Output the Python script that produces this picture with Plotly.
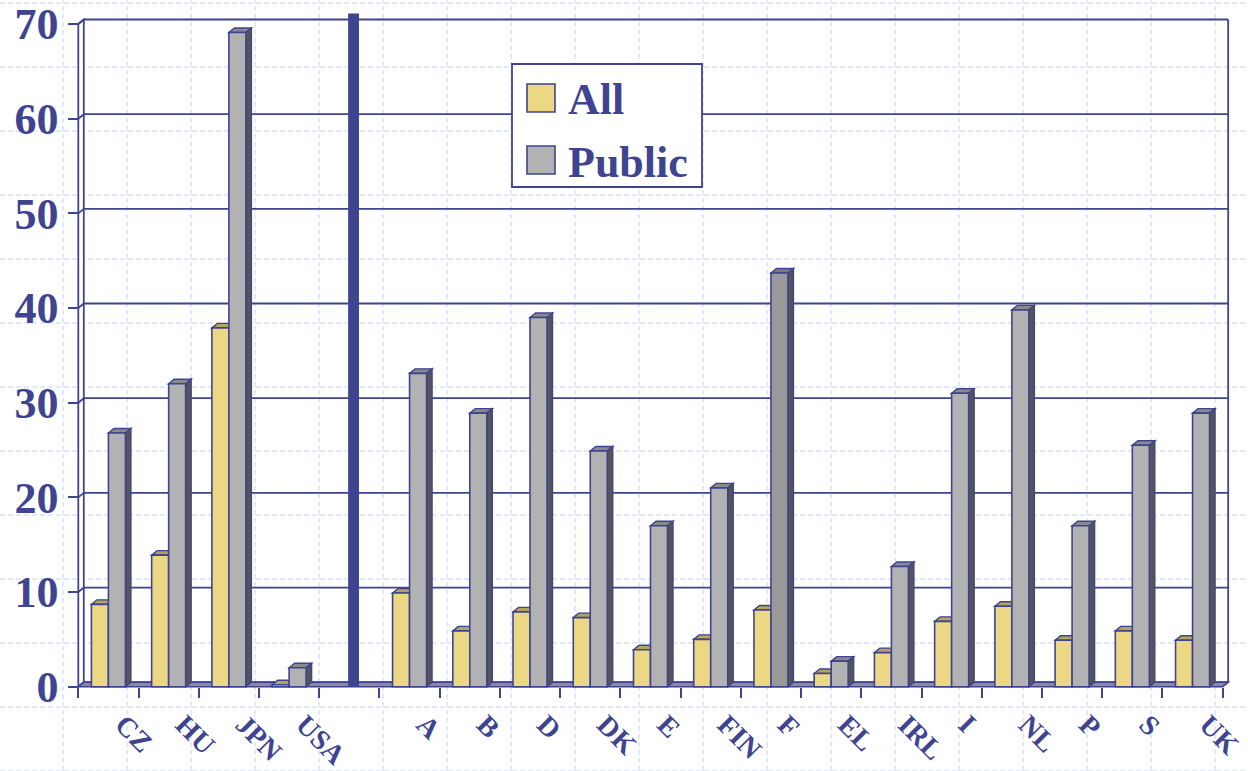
import plotly.graph_objects as go

# ---- data -------------------------------------------------------------
categories = ["CZ", "HU", "JPN", "USA", " ", "A", "B", "D", "DK", "E",
              "FIN", "F", "EL", "IRL", "I", "NL", "P", "S", "UK"]
all_values = [8.7, 13.9, 37.9, 0.2, None, 9.9, 5.9, 7.9, 7.3, 3.9,
              5.0, 8.1, 1.4, 3.6, 6.9, 8.5, 4.9, 5.9, 4.9]
public_values = [26.8, 32.0, 69.1, 2.0, None, 33.1, 28.9, 39.0, 24.9, 17.0,
                 21.0, 43.7, 2.7, 12.7, 31.0, 39.8, 17.0, 25.5, 28.9]
y_ticks = [0, 10, 20, 30, 40, 50, 60, 70]
series_names = ["All", "Public"]
highlight_category = "F"
separator_category = " "

# ---- styling ----------------------------------------------------------
W, H = 1248, 771
BLUE = "#3F4490"
FONT = "Liberation Serif"
YELLOW, YELLOW_TOP = "#EBD784", "#B5A25C"
GREY, GREY_TOP = "#B2B2B2", "#8A8A8A"
GREY_HI, GREY_HI_TOP = "#999999", "#7A7A7A"
SIDE = "#555555"
BG_GRID = "#C4D2F4"

# pixel geometry of the front plane
X0_PX = 78.3        # left edge of first category
CAT_PX = 60.23      # width of one category slot
Y0_PX = 686.7       # value 0
UNIT_PX = 9.467     # pixels per unit
DEPTH_X_PX, DEPTH_Y_PX = 5.5, 4.5
BAR_PX = 17.0

n = len(categories)
ddx = DEPTH_X_PX / CAT_PX
ddy = DEPTH_Y_PX / UNIT_PX
x_range = [-0.6, n - 0.5 + ddx + 0.1]
y_range = [-0.2, 71.3]
bargap = 1 - 2 * BAR_PX / CAT_PX
half = (1 - bargap) / 2

px_left = X0_PX + (x_range[0] + 0.5) * CAT_PX
px_right = X0_PX + (x_range[1] + 0.5) * CAT_PX
py_bottom = Y0_PX - y_range[0] * UNIT_PX
py_top = Y0_PX - y_range[1] * UNIT_PX

public_colors = [GREY_HI if c == highlight_category else GREY for c in categories]
public_tops = [GREY_HI_TOP if c == highlight_category else GREY_TOP for c in categories]

fig = go.Figure()
fig.add_bar(x=categories, y=all_values, name=series_names[0],
            marker=dict(color=YELLOW, line=dict(color=BLUE, width=1.6)))
fig.add_bar(x=categories, y=public_values, name=series_names[1],
            marker=dict(color=public_colors, line=dict(color=BLUE, width=1.6)))

shapes = []

# dashed background grid over the whole page
gx = -1
while gx <= W:
    shapes.append(dict(type="line", xref="paper", yref="paper", layer="below",
                       x0=gx / W, x1=gx / W, y0=0, y1=1,
                       line=dict(color=BG_GRID, width=1, dash="5px,3px")))
    gx += 64
gy = 3
while gy <= H:
    shapes.append(dict(type="line", xref="paper", yref="paper", layer="below",
                       x0=0, x1=1, y0=1 - gy / H, y1=1 - gy / H,
                       line=dict(color=BG_GRID, width=1, dash="5px,3px")))
    gy += 64

left = -0.5
right = n - 0.5
top = y_ticks[-1]

# side wall
shapes.append(dict(type="path", xref="x", yref="y", layer="below",
                   path=f"M {left},0 L {left},{top} L {left+ddx},{top+ddy} L {left+ddx},{ddy} Z",
                   fillcolor="white", line=dict(color=BLUE, width=1.8)))
# back-wall gridlines and their wrap onto the side wall
for v in y_ticks:
    shapes.append(dict(type="line", xref="x", yref="y", layer="below",
                       x0=left + ddx, x1=right + ddx, y0=v + ddy, y1=v + ddy,
                       line=dict(color=BLUE, width=1.8)))
    shapes.append(dict(type="line", xref="x", yref="y", layer="below",
                       x0=left, x1=left + ddx, y0=v, y1=v + ddy,
                       line=dict(color=BLUE, width=1.8)))
# right edge of back wall
shapes.append(dict(type="line", xref="x", yref="y", layer="below",
                   x0=right + ddx, x1=right + ddx, y0=ddy, y1=top + ddy,
                   line=dict(color=BLUE, width=1.8)))
# floor
shapes.append(dict(type="path", xref="x", yref="y", layer="below",
                   path=f"M {left},0 L {right},0 L {right+ddx},{ddy} L {left+ddx},{ddy} Z",
                   fillcolor="#8A8A9A", line=dict(color=BLUE, width=1.6)))


def box_faces(x0, x1, v, top_color):
    """top and side faces of one column"""
    return [
        dict(type="path", xref="x", yref="y", layer="below",
             path=f"M {x0},{v} L {x1},{v} L {x1+ddx},{v+ddy} L {x0+ddx},{v+ddy} Z",
             fillcolor=top_color, line=dict(color=BLUE, width=1.4)),
        dict(type="path", xref="x", yref="y", layer="below",
             path=f"M {x1},0 L {x1+ddx},{ddy} L {x1+ddx},{v+ddy} L {x1},{v} Z",
             fillcolor=SIDE, line=dict(color=BLUE, width=1.4)),
    ]


for i, (a, p) in enumerate(zip(all_values, public_values)):
    if a is not None:
        shapes += box_faces(i - half, i, a, YELLOW_TOP)
    if p is not None:
        shapes += box_faces(i, i + half, p, public_tops[i])

# separator between the non-EU and EU groups
sep = categories.index(separator_category)
shapes.append(dict(type="rect", xref="x", yref="y", layer="above",
                   x0=sep - 0.02, x1=sep + 0.16, y0=0, y1=71.1,
                   fillcolor=BLUE, line=dict(width=0)))

# legend box
def px_x(v):
    return v / W


def px_y(v):
    return 1 - v / H


shapes.append(dict(type="rect", xref="paper", yref="paper", layer="above",
                   x0=px_x(512), x1=px_x(702), y0=px_y(187), y1=px_y(64),
                   fillcolor="white", line=dict(color=BLUE, width=1.8)))
annotations = []
for k, (name, col) in enumerate(zip(series_names, [YELLOW, GREY])):
    cy = 98 + 62 * k
    shapes.append(dict(type="rect", xref="paper", yref="paper", layer="above",
                       x0=px_x(527), x1=px_x(555), y0=px_y(cy + 14), y1=px_y(cy - 14),
                       fillcolor=col, line=dict(color=BLUE, width=1.6)))
    annotations.append(dict(xref="paper", yref="paper", x=px_x(566), y=px_y(cy + 2),
                            xanchor="left", yanchor="middle", showarrow=False,
                            text=name,
                            font=dict(family=FONT, size=44, color=BLUE, weight="bold")))

fig.update_layout(
    template="none",
    width=W, height=H,
    margin=dict(l=0, r=0, t=0, b=0, pad=0),
    paper_bgcolor="white",
    plot_bgcolor="rgba(0,0,0,0)",
    barmode="group",
    bargap=bargap,
    bargroupgap=0,
    showlegend=False,
    shapes=shapes,
    annotations=annotations,
    xaxis=dict(
        domain=[px_left / W, px_right / W],
        range=x_range,
        type="category",
        categoryorder="array", categoryarray=categories,
        tickson="boundaries",
        ticks="outside", ticklen=10, tickwidth=2, tickcolor=BLUE,
        tickangle=45,
        tickfont=dict(family=FONT, size=28, color=BLUE, weight="bold"),
        ticklabelstandoff=15,
        ticklabelshift=15,
        showgrid=False, zeroline=False, showline=False,
        anchor="free", position=1 - Y0_PX / H,
        automargin=False,
        fixedrange=True,
    ),
    yaxis=dict(
        domain=[1 - py_bottom / H, 1 - py_top / H],
        range=y_range,
        tickvals=y_ticks,
        ticks="outside", ticklen=10, tickwidth=2, tickcolor=BLUE,
        tickfont=dict(family=FONT, size=44, color=BLUE, weight="bold"),
        ticklabelstandoff=1,
        showgrid=False, zeroline=False, showline=False,
        anchor="free", position=X0_PX / W,
        automargin=False,
        fixedrange=True,
    ),
)

fig.write_html("out.html")
